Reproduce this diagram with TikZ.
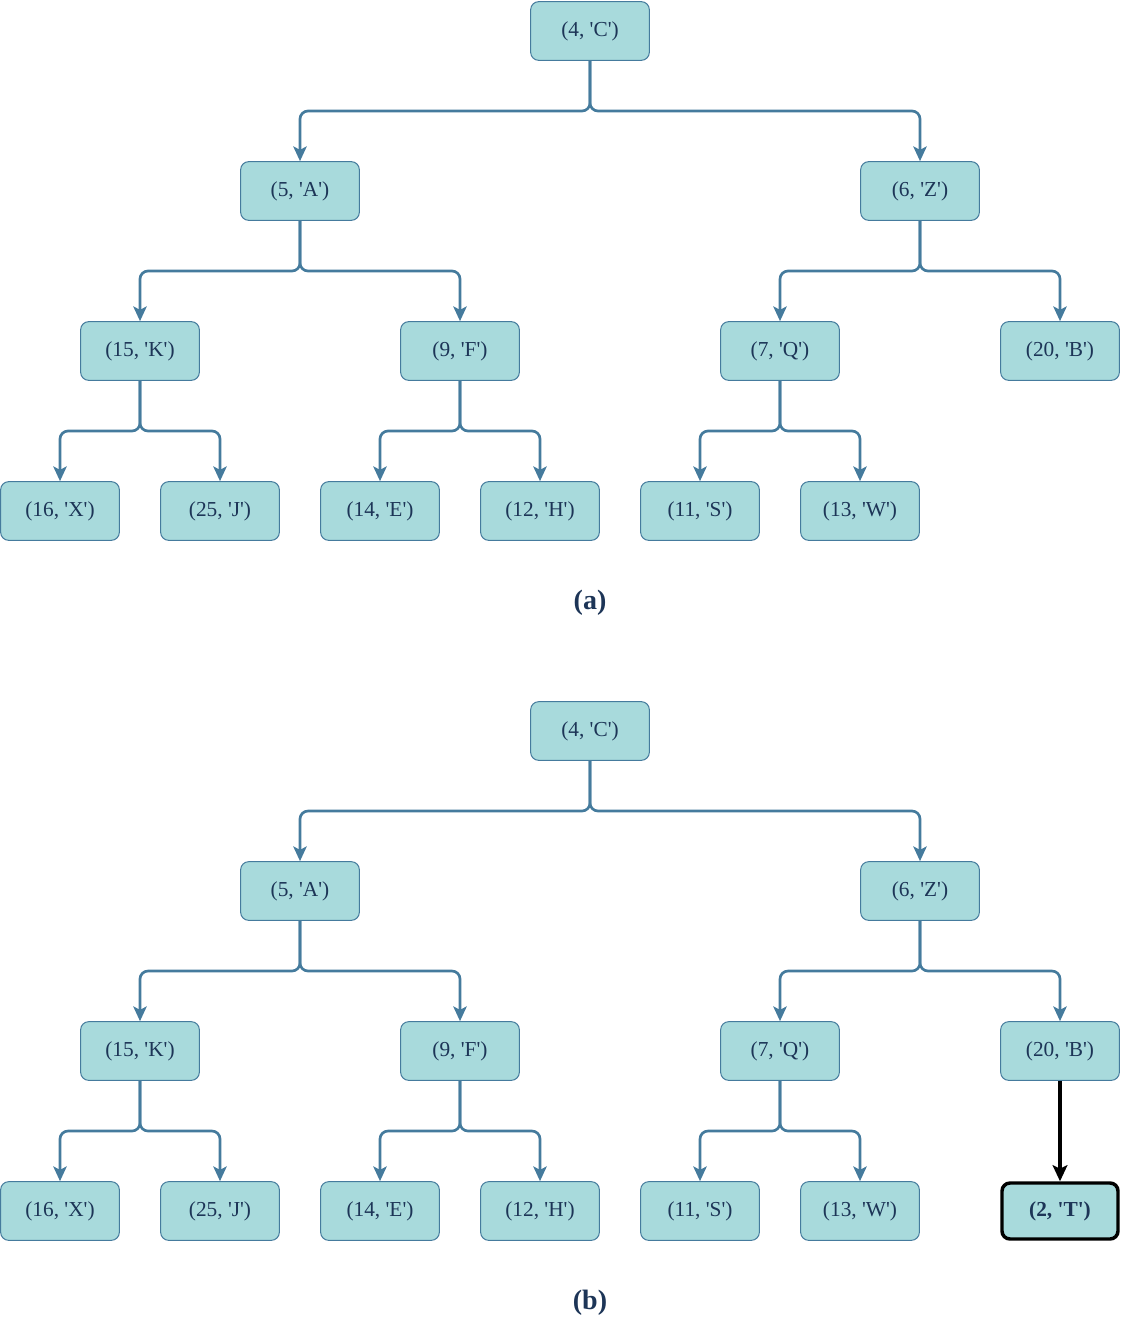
\documentclass[tikz,border=0pt]{standalone}
\usepackage{fontspec}
\setmainfont{Liberation Serif}
\usetikzlibrary{arrows.meta,calc}
\definecolor{fillc}{HTML}{A8DADC}
\definecolor{edgec}{HTML}{457B9D}
\definecolor{txtc}{HTML}{1D3557}
\newcommand\sq{\textquotesingle}
\newcommand\tedge[2]{\coordinate (m#1#2) at ($(#1.south)!0.5!(#2.north)$);\draw[ed] (#1.south) -- (#1.south |- m#1#2) -- (#2.north |- m#1#2) -- (#2.north);}
\begin{document}
\begin{tikzpicture}[x=0.75pt,y=-0.75pt,
  tn/.style={draw=edgec, fill=fillc, rounded corners=6pt, minimum width=89pt, minimum height=44pt, text=txtc, font=\fontsize{16}{19}\selectfont, line width=0.75pt, inner sep=0pt},
  tnew/.style={tn, draw=black, line width=2.6pt, font=\fontsize{16}{19}\selectfont\bfseries, minimum width=87pt, minimum height=42pt},
  ed/.style={draw=edgec, line width=2pt, rounded corners=6pt, -{Stealth[length=11pt,width=10pt,inset=2.5pt]}},
  edn/.style={draw=black, line width=2.6pt, -{Stealth[length=12pt,width=11pt,inset=2.5pt]}},
  captext/.style={text=txtc, font=\fontsize{21}{25}\selectfont\bfseries}]
\useasboundingbox (0,0) rectangle (1123,1320);
% tree (a)
\node[tn] (aC) at (590,31) {(4, \sq C\sq)};
\node[tn] (aA) at (300,191) {(5, \sq A\sq)};
\node[tn] (aZ) at (920,191) {(6, \sq Z\sq)};
\node[tn] (aK) at (140,351) {(15, \sq K\sq)};
\node[tn] (aF) at (460,351) {(9, \sq F\sq)};
\node[tn] (aQ) at (780,351) {(7, \sq Q\sq)};
\node[tn] (aB) at (1060,351) {(20, \sq B\sq)};
\node[tn] (aX) at (60,511) {(16, \sq X\sq)};
\node[tn] (aJ) at (220,511) {(25, \sq J\sq)};
\node[tn] (aE) at (380,511) {(14, \sq E\sq)};
\node[tn] (aH) at (540,511) {(12, \sq H\sq)};
\node[tn] (aS) at (700,511) {(11, \sq S\sq)};
\node[tn] (aW) at (860,511) {(13, \sq W\sq)};
\tedge{aC}{aA}\tedge{aC}{aZ}
\tedge{aA}{aK}\tedge{aA}{aF}
\tedge{aZ}{aQ}\tedge{aZ}{aB}
\tedge{aK}{aX}\tedge{aK}{aJ}
\tedge{aF}{aE}\tedge{aF}{aH}
\tedge{aQ}{aS}\tedge{aQ}{aW}
\node[captext] (capa) at (590,603) {(a)};
% tree (b)
\node[tn] (bC) at (590,731) {(4, \sq C\sq)};
\node[tn] (bA) at (300,891) {(5, \sq A\sq)};
\node[tn] (bZ) at (920,891) {(6, \sq Z\sq)};
\node[tn] (bK) at (140,1051) {(15, \sq K\sq)};
\node[tn] (bF) at (460,1051) {(9, \sq F\sq)};
\node[tn] (bQ) at (780,1051) {(7, \sq Q\sq)};
\node[tn] (bB) at (1060,1051) {(20, \sq B\sq)};
\node[tn] (bX) at (60,1211) {(16, \sq X\sq)};
\node[tn] (bJ) at (220,1211) {(25, \sq J\sq)};
\node[tn] (bE) at (380,1211) {(14, \sq E\sq)};
\node[tn] (bH) at (540,1211) {(12, \sq H\sq)};
\node[tn] (bS) at (700,1211) {(11, \sq S\sq)};
\node[tn] (bW) at (860,1211) {(13, \sq W\sq)};
\node[tnew] (bT) at (1060,1211) {(2, \sq T\sq)};
\tedge{bC}{bA}\tedge{bC}{bZ}
\tedge{bA}{bK}\tedge{bA}{bF}
\tedge{bZ}{bQ}\tedge{bZ}{bB}
\tedge{bK}{bX}\tedge{bK}{bJ}
\tedge{bF}{bE}\tedge{bF}{bH}
\tedge{bQ}{bS}\tedge{bQ}{bW}
\draw[edn] (bB.south) -- (bT.north);
\node[captext] (capb) at (590,1303) {(b)};
\end{tikzpicture}
\end{document}
